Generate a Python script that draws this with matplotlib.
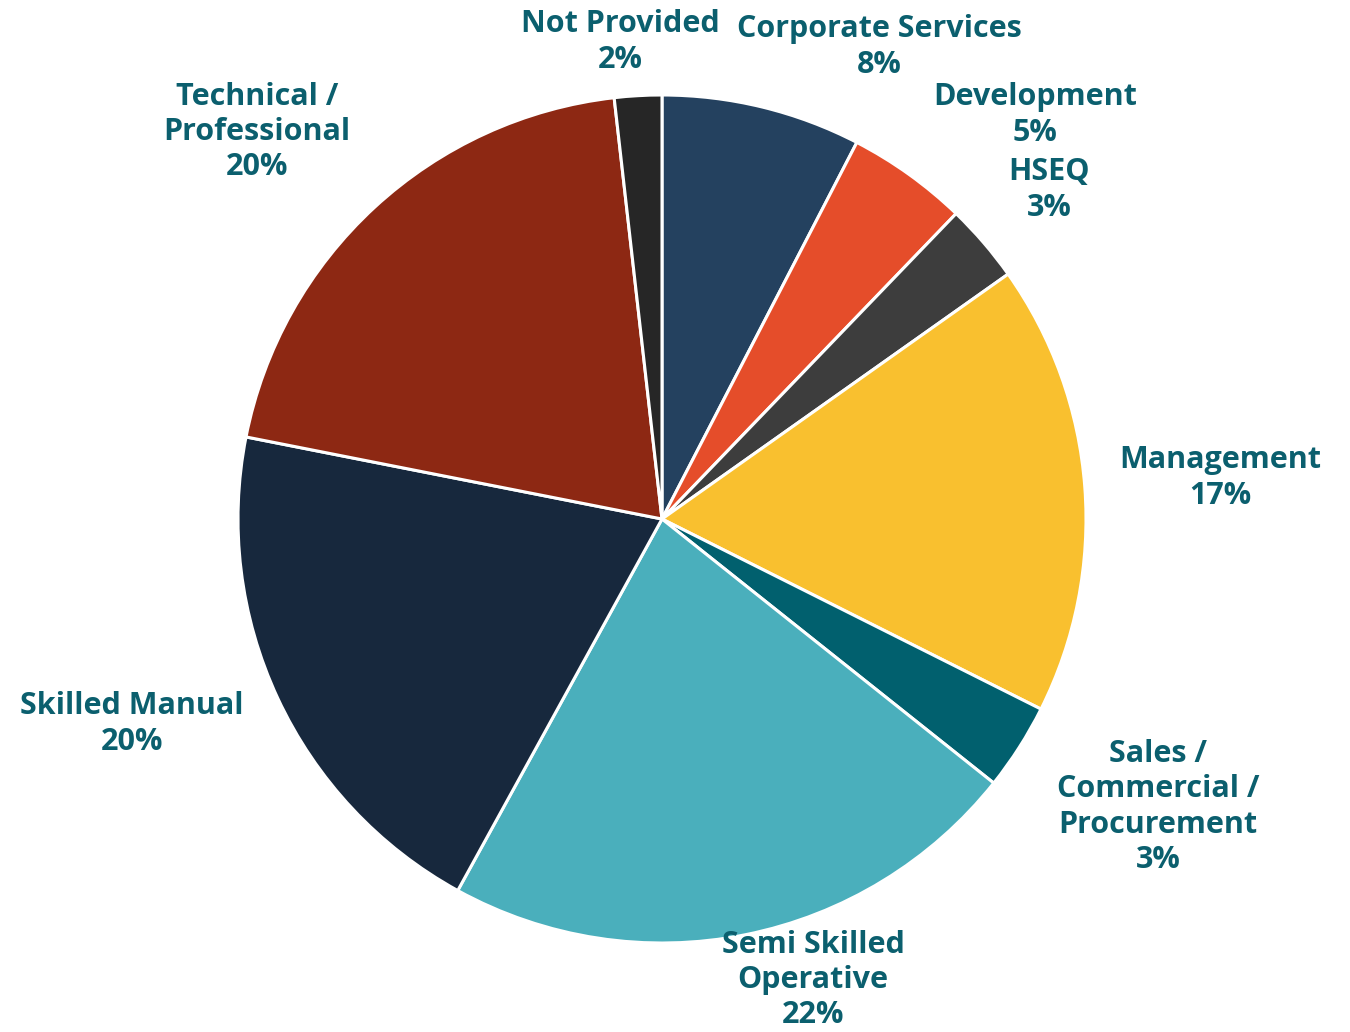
import matplotlib.pyplot as plt

# shares (percent)
categories = ['Corporate Services', 'Development', 'HSEQ', 'Management',
              'Sales / Commercial / Procurement', 'Semi Skilled Operative',
              'Skilled Manual', 'Technical / Professional', 'Not Provided']
shares = [7.6, 4.6, 3.0, 17.2, 3.3, 22.3, 20.1, 20.1, 1.8]
label_text = ['Corporate Services', 'Development', 'HSEQ', 'Management',
              'Sales /\nCommercial /\nProcurement', 'Semi Skilled\nOperative',
              'Skilled Manual', 'Technical /\nProfessional', 'Not Provided']
colors = ['#24415F', '#E54D2A', '#3D3D3D', '#F9C02F', '#01606E',
          '#4AAFBC', '#17283D', '#8D2813', '#262626']

# label centres in pixels of the 1350x1032 picture
label_px = [(879, 47), (1035, 115), (1049, 190), (1220, 478), (1158, 807),
            (813, 980), (132, 724), (257, 132), (620, 42)]

W, H = 1350, 1032
cx, cy, R = 662, 519, 424

plt.rcParams['font.family'] = ['Open Sans', 'DejaVu Sans']
fig = plt.figure(figsize=(W / 100, H / 100), dpi=100)
ax = fig.add_axes([0, 0, 1, 1])
ax.pie(shares, colors=colors, startangle=90, counterclock=False, radius=1,
       wedgeprops=dict(edgecolor='white', linewidth=2.2))
ax.set_xlim(-cx / R, (W - cx) / R)
ax.set_ylim((cy - H) / R, cy / R)
ax.set_aspect('equal')
ax.axis('off')

for txt, val, (px, py) in zip(label_text, shares, label_px):
    ax.text((px - cx) / R, (cy - py) / R, f'{txt}\n{round(val)}%',
            ha='center', va='center', fontsize=22, fontweight='bold',
            color='#0B5F6E', linespacing=1.22)

fig.savefig('out.png', dpi=100)
